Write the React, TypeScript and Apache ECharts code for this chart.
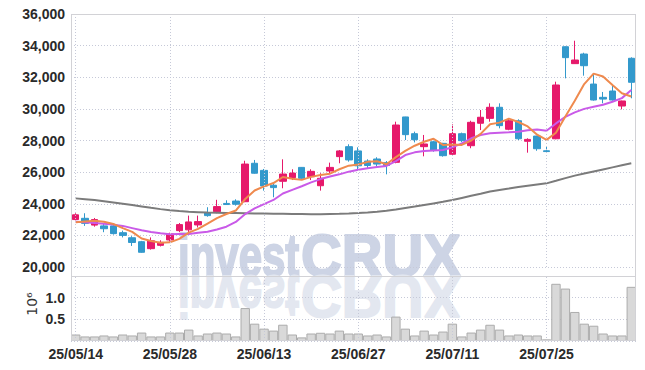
import React, { useEffect, useRef } from 'react';
import * as echarts from 'echarts';

const dates = [
  '25/05/14', '25/05/15', '25/05/16', '25/05/19', '25/05/20', '25/05/21', '25/05/22', '25/05/23', '25/05/26', '25/05/27',
  '25/05/28', '25/05/29', '25/05/30', '25/06/02', '25/06/04', '25/06/05', '25/06/09', '25/06/10', '25/06/11', '25/06/12',
  '25/06/13', '25/06/16', '25/06/17', '25/06/18', '25/06/19', '25/06/20', '25/06/23', '25/06/24', '25/06/25', '25/06/26',
  '25/06/27', '25/06/30', '25/07/01', '25/07/02', '25/07/03', '25/07/04', '25/07/07', '25/07/08', '25/07/09', '25/07/10',
  '25/07/11', '25/07/14', '25/07/15', '25/07/16', '25/07/17', '25/07/18', '25/07/21', '25/07/22', '25/07/23', '25/07/24',
  '25/07/25', '25/07/28', '25/07/29', '25/07/30', '25/07/31', '25/08/01', '25/08/04', '25/08/05', '25/08/06', '25/08/07',
];

const opens = [
  23000, 23080, 22650, 22600, 22600, 22170, 21850, 21600, 21160, 21370,
  21710, 22300, 22350, 22660, 23420, 23500, 24020, 24170, 24130, 26560,
  26110, 25170, 25420, 25650, 26300, 25710, 25140, 26070, 26980, 27610,
  27340, 26700, 26830, 26600, 26620, 29490, 28430, 27610, 27920, 27820,
  27130, 28430, 27670, 29090, 29400, 30100, 28710, 29250, 27950, 28280,
  27350, 28110, 33930, 32860, 33470, 31570, 30730, 31130, 30180, 33200,
];
const closes = [
  23300, 22760, 23000, 22420, 22110, 22000, 21550, 20930, 21660, 21560,
  22090, 22680, 22850, 22870, 23250, 23820, 23950, 23970, 26510, 25930,
  25120, 25020, 25880, 25940, 25610, 26050, 25610, 26300, 27340, 26770,
  26400, 26420, 26510, 26420, 28980, 28370, 28050, 27780, 27380, 27040,
  28430, 27990, 29150, 29470, 30100, 28940, 29250, 28110, 28070, 27480,
  27300, 31510, 33240, 33090, 32730, 30560, 30620, 30560, 30500, 31680,
];
const lows = [
  22950, 22600, 22550, 22200, 22050, 21870, 21330, 20900, 21100, 21300,
  21600, 22200, 22200, 22500, 23180, 23400, 23930, 23880, 24100, 25900,
  24830, 24410, 24980, 25500, 25580, 25500, 24830, 25930, 26560, 26660,
  26130, 26200, 26340, 25860, 26560, 28030, 27880, 27000, 27290, 26980,
  27060, 27900, 27510, 28660, 29190, 28770, 28650, 28030, 27230, 27350,
  27270, 28080, 31930, 32850, 32100, 30520, 30350, 30520, 29970, 30670,
];
const highs = [
  23400, 23400, 23100, 22720, 22700, 22300, 21950, 21650, 21870, 21690,
  22170, 22780, 23250, 23250, 23780, 24250, 24220, 24280, 26720, 26770,
  26200, 25300, 26810, 26180, 26320, 26180, 25930, 26600, 27400, 27760,
  27570, 26810, 26940, 26700, 29190, 29500, 28560, 28350, 27990, 27850,
  29020, 28500, 29250, 29930, 30350, 30350, 29400, 29340, 28140, 28300,
  27650, 31720, 33950, 34310, 33550, 32200, 31070, 31450, 30520, 33260,
];

const ma5 = [
  22830, 22880, 22920, 22860, 22720, 22460, 22220, 21800, 21650, 21540,
  21560, 21780, 22170, 22410, 22750, 23090, 23350, 23570, 24300, 24840,
  25100, 25310, 25690, 25580, 25510, 25700, 25820, 25900, 26180, 26410,
  26480, 26650, 26690, 26500, 26950, 27340, 27670, 27920, 28110, 27720,
  27740, 27720, 28000, 28420, 29030, 29130, 29380, 29170, 28890, 28370,
  28040, 28490, 29520, 30520, 31570, 32230, 32050, 31510, 30990, 30780,
];
const ma10 = [
  22865, 22830, 22790, 22740, 22680, 22600, 22460, 22320, 22220, 22130,
  22070, 22080, 22090, 22160, 22230, 22370, 22550, 22850, 23350, 23710,
  23980, 24240, 24650, 24880, 25110, 25350, 25560, 25720, 25860, 26030,
  26150, 26250, 26320, 26390, 26700, 27080, 27250, 27340, 27370, 27400,
  27570, 27820, 28140, 28350, 28460, 28490, 28520, 28560, 28650, 28700,
  28620, 29080, 29500, 29780, 30000, 30130, 30260, 30450, 30680, 31200,
];
const maLong = [
  24340, 24290, 24230, 24160, 24080, 24000, 23920, 23830, 23740, 23660,
  23590, 23540, 23500, 23470, 23440, 23430, 23420, 23410, 23400, 23390,
  23380, 23370, 23360, 23350, 23350, 23340, 23340, 23350, 23360, 23380,
  23410, 23450, 23500, 23560, 23640, 23730, 23820, 23920, 24020, 24120,
  24240, 24370, 24500, 24630, 24770, 24870, 24960, 25060, 25140, 25220,
  25290, 25450, 25620, 25780, 25910, 26040, 26170, 26300, 26430, 26560,
];

// volume in millions of shares
const volumes = [
  0.15, 0.105, 0.105, 0.128, 0.105, 0.15, 0.128, 0.195, 0.105, 0.105,
  0.195, 0.195, 0.263, 0.128, 0.173, 0.195, 0.173, 0.105, 0.76, 0.40,
  0.285, 0.24, 0.376, 0.15, 0.083, 0.173, 0.19, 0.173, 0.24, 0.173,
  0.173, 0.128, 0.15, 0.105, 0.563, 0.285, 0.128, 0.24, 0.15, 0.218,
  0.40, 0.105, 0.195, 0.263, 0.375, 0.263, 0.128, 0.15, 0.128, 0.128,
  0.038, 1.32, 1.21, 0.67, 0.40, 0.353, 0.173, 0.128, 0.128, 1.25,
];

const labelDates = ['25/05/14', '25/05/28', '25/06/13', '25/06/27', '25/07/11', '25/07/25'];

const UP = '#e6196b';
const DOWN = '#3399cc';
const LABEL_FONT = '"Liberation Sans", Arial, sans-serif';
const GRID_COLOR = '#c6c9d8';
const WM_FONT = 'bold 60px "Liberation Sans", sans-serif';

export default function App() {
  const ref = useRef<HTMLDivElement>(null);

  useEffect(() => {
    if (!ref.current) return;
    const chart = echarts.init(ref.current, undefined, { renderer: 'svg' });
    const candleData = opens.map((o, i) => [o, closes[i], lows[i], highs[i]]);
    const vLines = {
      silent: true,
      symbol: ['none', 'none'],
      label: { show: false },
      lineStyle: { color: GRID_COLOR, type: [1, 2], width: 1 },
      data: labelDates.map((d) => ({ xAxis: d })),
    };
    const labelStyle = { color: '#2a2a2a', fontSize: 14, fontWeight: 'bold', fontFamily: LABEL_FONT };
    const option: any = {
      animation: false,
      backgroundColor: '#ffffff',
      grid: [
        { left: 71, right: 9, top: 14, height: 253 },
        { left: 71, right: 9, top: 276, height: 65 },
      ],
      xAxis: [
        {
          type: 'category', gridIndex: 0, data: dates, boundaryGap: true,
          axisLine: { show: false }, axisTick: { show: false }, axisLabel: { show: false }, splitLine: { show: false },
        },
        {
          type: 'category', gridIndex: 1, data: dates, boundaryGap: true,
          axisLine: { show: false }, axisTick: { show: false }, splitLine: { show: false },
          axisLabel: { interval: 9, margin: 6, ...labelStyle },
        },
      ],
      yAxis: [
        {
          type: 'value', gridIndex: 0, min: 20000, max: 36000, interval: 2000,
          axisLine: { show: false }, axisTick: { show: false },
          splitLine: { lineStyle: { color: GRID_COLOR, type: [1, 2] } },
          axisLabel: {
            margin: 6, ...labelStyle,
            formatter: (v: number) => v.toLocaleString('en-US'),
          },
        },
        {
          type: 'value', gridIndex: 1, min: 0, max: 1.5, interval: 0.5,
          axisLine: { show: false }, axisTick: { show: false },
          splitLine: { lineStyle: { color: GRID_COLOR, type: [1, 2] } },
          axisLabel: {
            margin: 6, ...labelStyle,
            formatter: (v: number) => (v > 0.01 && v < 1.4 ? v.toFixed(1) : ''),
          },
        },
      ],
      graphic: [
        {
          type: 'text', x: 178, y: 255.2, z: -5, silent: true, scaleX: 0.7,
          style: { text: 'invest', font: WM_FONT, fill: '#cdd4e5', stroke: '#cdd4e5', lineWidth: 2, verticalAlign: 'middle', align: 'left' },
        },
        {
          type: 'text', x: 301, y: 255.2, z: -5, silent: true, scaleX: 0.94,
          style: { text: 'CRUX', font: WM_FONT, fill: '#cdd4e5', stroke: '#cdd4e5', lineWidth: 2, verticalAlign: 'middle', align: 'left' },
        },
        {
          type: 'text', x: 178, y: 276, z: -5, silent: true, scaleX: 0.7, scaleY: -1,
          style: { text: 'invest', x: 0, y: -20.8, font: WM_FONT, fill: '#e3e7f0', stroke: '#e3e7f0', lineWidth: 2, verticalAlign: 'middle', align: 'left' },
        },
        {
          type: 'text', x: 301, y: 276, z: -5, silent: true, scaleX: 0.94, scaleY: -1,
          style: { text: 'CRUX', x: 0, y: -20.8, font: WM_FONT, fill: '#e3e7f0', stroke: '#e3e7f0', lineWidth: 2, verticalAlign: 'middle', align: 'left' },
        },
        {
          type: 'rect', z: 20, silent: true,
          shape: { x: 71.5, y: 14.5, width: 564, height: 326 },
          style: { fill: 'none', stroke: '#d2d2d6', lineWidth: 1 },
        },
        {
          type: 'line', z: 20, silent: true,
          shape: { x1: 71.5, y1: 276.5, x2: 635.5, y2: 276.5 },
          style: { stroke: '#d2d2d6', lineWidth: 1 },
        },
        {
          type: 'text', x: 32, y: 304, rotation: Math.PI / 2, silent: true,
          style: { text: '10⁶', font: '14px "DejaVu Sans", sans-serif', fill: '#333', align: 'center', verticalAlign: 'middle' },
        },
      ],
      series: [
        {
          type: 'candlestick', xAxisIndex: 0, yAxisIndex: 0, data: candleData, barWidth: 7,
          itemStyle: { color: UP, color0: DOWN, borderColor: UP, borderColor0: DOWN, borderWidth: 1 },
          markLine: vLines,
        },
        {
          type: 'line', xAxisIndex: 0, yAxisIndex: 0, data: maLong, symbol: 'none',
          lineStyle: { color: '#7b7b7b', width: 2 },
        },
        {
          type: 'line', xAxisIndex: 0, yAxisIndex: 0, data: ma10, symbol: 'none',
          lineStyle: { color: '#c95ae8', width: 2 },
        },
        {
          type: 'line', xAxisIndex: 0, yAxisIndex: 0, data: ma5, symbol: 'none',
          lineStyle: { color: '#ef8a4e', width: 2 },
        },
        {
          type: 'bar', xAxisIndex: 1, yAxisIndex: 1, data: volumes, barCategoryGap: '0%',
          itemStyle: { color: '#d9d9d9', borderColor: '#acacac', borderWidth: 1 },
          markLine: vLines,
        },
      ],
    };
    chart.setOption(option);
    return () => chart.dispose();
  }, []);

  return <div ref={ref} style={{ position: 'fixed', left: 0, top: 0, width: 645, height: 370 }} />;
}
